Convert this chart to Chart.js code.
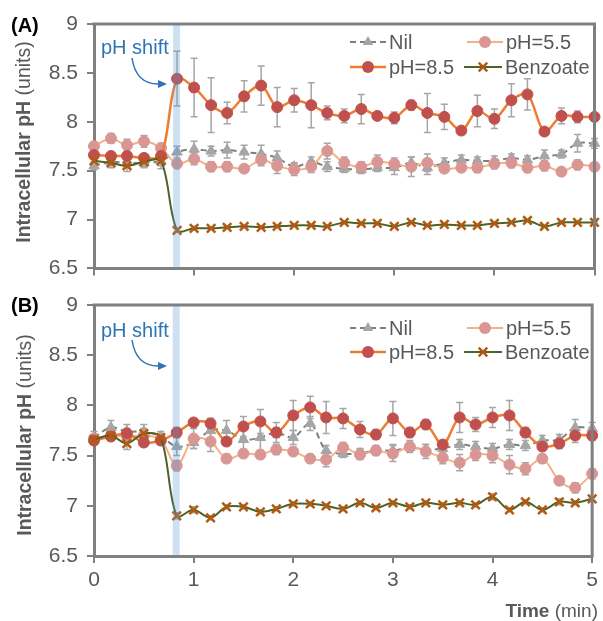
<!DOCTYPE html>
<html>
<head>
<meta charset="utf-8">
<script src="https://cdn.jsdelivr.net/npm/chart.js@4.4.1/dist/chart.umd.min.js"></script>
<style>
  body { margin: 0; background: #fff; }
  #wrap { position: relative; width: 603px; height: 621px; font-family: 'Liberation Sans', Arial, sans-serif; color: #595959; }
  canvas { position: absolute; left: 0; }
  .txt { position: absolute; white-space: nowrap; line-height: 1; }
  .panel { font-weight: bold; color: #000; font-size: 20px; }
  .ytitle { font-size: 19.5px; transform: translate(-50%, -50%) rotate(-90deg); }
  .shift { color: #2E75B6; font-size: 20px; }
</style>
</head>
<body>
<div id="wrap">
  <canvas id="chartA" width="603" height="290" style="top:0"></canvas>
  <canvas id="chartB" width="603" height="340" style="top:281px"></canvas>

  <div class="txt panel" style="left:11px; top:15px">(A)</div>
  <div class="txt panel" style="left:11px; top:295px">(B)</div>
  <div class="txt ytitle" style="left:24px; top:142px"><b>Intracellular pH</b> (units)</div>
  <div class="txt ytitle" style="left:25px; top:435px"><b>Intracellular pH</b> (units)</div>
  <div class="txt shift" style="left:101px; top:37px">pH shift</div>
  <div class="txt shift" style="left:101px; top:320px">pH shift</div>
  <div class="txt" style="right:5px; top:601px; font-size:19px"><b>Time</b> (min)</div>
</div>

<script>
// time points (min)
const time = [0, 0.17, 0.33, 0.5, 0.67, 0.83, 1, 1.17, 1.33, 1.5, 1.67, 1.83, 2, 2.17, 2.33, 2.5,
  2.67, 2.83, 3, 3.17, 3.33, 3.5, 3.67, 3.83, 4, 4.17, 4.33, 4.5, 4.67, 4.83, 5];
const xTicks = [0, 1, 2, 3, 4, 5];
const yTicks = [6.5, 7, 7.5, 8, 8.5, 9];
const shiftBand = [0.79, 0.86];
const seriesNames = ['Nil', 'pH=5.5', 'pH=8.5', 'Benzoate'];

// panel A
const nilA  = [7.55, 7.59, 7.58, 7.58, 7.60, 7.69, 7.72, 7.70, 7.71, 7.69, 7.67, 7.63, 7.54, 7.59, 7.54, 7.52,
  7.51, 7.53, 7.53, 7.58, 7.53, 7.58, 7.61, 7.60, 7.60, 7.63, 7.61, 7.65, 7.67, 7.78, 7.78];
const ph55A = [7.75, 7.83, 7.76, 7.80, 7.73, 7.57, 7.62, 7.54, 7.54, 7.52, 7.61, 7.55, 7.51, 7.54, 7.70, 7.58,
  7.54, 7.59, 7.57, 7.54, 7.58, 7.52, 7.53, 7.53, 7.57, 7.58, 7.53, 7.55, 7.49, 7.56, 7.54];
const ph85A = [7.66, 7.65, 7.65, 7.63, 7.65, 8.44, 8.35, 8.17, 8.09, 8.26, 8.37, 8.15, 8.22, 8.17, 8.09, 8.06,
  8.13, 8.06, 8.04, 8.17, 8.09, 8.05, 7.91, 8.11, 8.03, 8.22, 8.28, 7.90, 8.06, 8.05, 8.05];
const bzA   = [7.60, 7.58, 7.55, 7.59, 7.60, 6.89, 6.91, 6.91, 6.92, 6.93, 6.92, 6.93, 6.94, 6.94, 6.93, 6.97,
  6.96, 6.96, 6.93, 6.97, 6.94, 6.95, 6.94, 6.94, 6.96, 6.97, 6.99, 6.93, 6.97, 6.97, 6.97];
const errNilA  = [0.04, 0.04, 0.05, 0.05, 0.05, 0.06, 0.08, 0.05, 0.08, 0.07, 0.09, 0.07, 0.04, 0.05, 0.05, 0.04,
  0.04, 0.04, 0.07, 0.06, 0.07, 0.05, 0.05, 0.04, 0.05, 0.04, 0.04, 0.06, 0.04, 0.09, 0.05];
const errPh55A = [0.04, 0.05, 0.06, 0.06, 0.05, 0.03, 0.06, 0.05, 0.05, 0.03, 0.06, 0.08, 0.06, 0.06, 0.08, 0.06,
  0.05, 0.07, 0.06, 0.10, 0.09, 0.04, 0.04, 0.05, 0.05, 0.05, 0.05, 0.05, 0.04, 0.05, 0.04];
const errPh85A = [0.03, 0.03, 0.03, 0.04, 0.03, 0.28, 0.30, 0.28, 0.11, 0.16, 0.20, 0.20, 0.12, 0.23, 0.07, 0.07,
  0.15, 0.03, 0.06, 0.05, 0.20, 0.13, 0.03, 0.16, 0.10, 0.17, 0.16, 0.03, 0.08, 0.06, 0.03];
const errBzA   = [0.04, 0.05, 0.06, 0.05, 0.08, 0.02, 0.02, 0.01, 0.01, 0.01, 0.01, 0.01, 0.01, 0.01, 0.01, 0.01,
  0.01, 0.01, 0.01, 0.01, 0.01, 0.01, 0.01, 0.01, 0.01, 0.01, 0.01, 0.01, 0.01, 0.01, 0.01];

// panel B
const nilB  = [7.68, 7.78, 7.74, 7.74, 7.69, 7.59, 7.63, 7.75, 7.75, 7.66, 7.68, 7.73, 7.68, 7.82, 7.55, 7.52,
  7.52, 7.55, 7.55, 7.58, 7.56, 7.57, 7.61, 7.59, 7.57, 7.61, 7.60, 7.65, 7.66, 7.78, 7.77];
const ph55B = [7.67, 7.70, 7.69, 7.70, 7.66, 7.40, 7.67, 7.64, 7.47, 7.52, 7.51, 7.56, 7.54, 7.47, 7.46, 7.58,
  7.51, 7.55, 7.52, 7.59, 7.54, 7.48, 7.43, 7.51, 7.50, 7.41, 7.37, 7.47, 7.25, 7.18, 7.32];
const ph85B = [7.65, 7.69, 7.72, 7.63, 7.65, 7.73, 7.83, 7.82, 7.64, 7.79, 7.84, 7.73, 7.90, 7.98, 7.88, 7.87,
  7.76, 7.71, 7.87, 7.73, 7.81, 7.61, 7.88, 7.81, 7.88, 7.90, 7.73, 7.59, 7.62, 7.70, 7.70];
const bzB   = [7.66, 7.70, 7.62, 7.72, 7.68, 6.90, 6.96, 6.88, 6.99, 6.99, 6.94, 6.97, 7.02, 7.02, 7.00, 6.97,
  7.03, 6.98, 7.03, 6.99, 7.03, 7.01, 7.03, 7.01, 7.09, 6.96, 7.04, 6.96, 7.04, 7.03, 7.07];
const errNilB  = [0.06, 0.07, 0.07, 0.07, 0.05, 0.09, 0.06, 0.12, 0.10, 0.10, 0.13, 0.10, 0.07, 0.07, 0.05, 0.04,
  0.05, 0.04, 0.06, 0.04, 0.05, 0.05, 0.05, 0.05, 0.05, 0.05, 0.05, 0.05, 0.05, 0.08, 0.06];
const errPh55B = [0.04, 0.04, 0.05, 0.04, 0.04, 0.05, 0.10, 0.10, 0.04, 0.04, 0.04, 0.05, 0.04, 0.04, 0.07, 0.05,
  0.05, 0.05, 0.08, 0.06, 0.07, 0.06, 0.08, 0.06, 0.07, 0.09, 0.06, 0.04, 0.04, 0.05, 0.05];
const errPh85B = [0.04, 0.04, 0.05, 0.04, 0.04, 0.05, 0.04, 0.05, 0.04, 0.10, 0.12, 0.05, 0.15, 0.11, 0.16, 0.10,
  0.08, 0.05, 0.17, 0.05, 0.05, 0.04, 0.15, 0.07, 0.10, 0.15, 0.05, 0.03, 0.05, 0.07, 0.05];
const errBzB   = [0.04, 0.04, 0.06, 0.05, 0.04, 0.03, 0.03, 0.02, 0.02, 0.02, 0.02, 0.02, 0.02, 0.02, 0.02, 0.02,
  0.02, 0.02, 0.02, 0.02, 0.02, 0.02, 0.02, 0.02, 0.03, 0.02, 0.02, 0.02, 0.03, 0.02, 0.02];

const FONT = "'Liberation Sans', Arial, sans-serif";
const AXIS = '#808080';

const styles = [
  { line: '#7F7F7F', dash: [6, 4], width: 2, point: 'triangle', fill: '#A6A6A6', stroke: '#A6A6A6', r: 6, bw: 1 },
  { line: '#F4B183', dash: [], width: 2, point: 'circle', fill: '#D99694', stroke: '#D99694', r: 5.5, bw: 1 },
  { line: '#ED7D31', dash: [], width: 2.5, point: 'circle', fill: '#C0504D', stroke: '#C0504D', r: 5.5, bw: 1 },
  { line: '#4F6228', dash: [], width: 2, point: 'crossRot', fill: '#B35A0F', stroke: '#B35A0F', r: 6, bw: 2.5 }
];

function makeSets(vals, errs) {
  return vals.map((v, k) => ({
    label: seriesNames[k],
    data: time.map((t, i) => ({ x: t, y: v[i] })),
    err: errs[k],
    order: 4 - k,
    borderColor: styles[k].line,
    borderWidth: styles[k].width,
    borderDash: styles[k].dash,
    tension: 0.33,
    pointStyle: styles[k].point,
    pointRadius: styles[k].r,
    pointBackgroundColor: styles[k].fill,
    pointBorderColor: styles[k].stroke,
    pointBorderWidth: styles[k].bw,
    clip: false
  }));
}

function marker(ctx, s, x, y) {
  ctx.save();
  ctx.fillStyle = s.fill; ctx.strokeStyle = s.stroke; ctx.lineWidth = s.bw; ctx.setLineDash([]);
  ctx.beginPath();
  if (s.point === 'circle') {
    ctx.arc(x, y, s.r + 0.5, 0, Math.PI * 2); ctx.fill();
  } else if (s.point === 'triangle') {
    const r = s.r;
    ctx.moveTo(x, y - r); ctx.lineTo(x + r * 0.87, y + r * 0.5); ctx.lineTo(x - r * 0.87, y + r * 0.5);
    ctx.closePath(); ctx.fill();
  } else {
    const d = s.r * 0.71;
    ctx.moveTo(x - d, y - d); ctx.lineTo(x + d, y + d);
    ctx.moveTo(x + d, y - d); ctx.lineTo(x - d, y + d); ctx.stroke();
  }
  ctx.restore();
}

const extras = {
  id: 'extras',
  beforeDatasetsDraw(chart) {
    const ctx = chart.ctx, xs = chart.scales.x, ys = chart.scales.y;
    ctx.save();
    ctx.strokeStyle = '#A6A6A6';
    ctx.lineWidth = 1.5;
    chart.data.datasets.forEach(ds => {
      ds.data.forEach((p, i) => {
        const e = ds.err[i];
        const px = xs.getPixelForValue(p.x);
        const t = ys.getPixelForValue(p.y + e), b = ys.getPixelForValue(p.y - e);
        ctx.beginPath();
        ctx.moveTo(px, t); ctx.lineTo(px, b);
        ctx.moveTo(px - 3.5, t); ctx.lineTo(px + 3.5, t);
        ctx.moveTo(px - 3.5, b); ctx.lineTo(px + 3.5, b);
        ctx.stroke();
      });
    });
    ctx.restore();
  },
  afterDatasetsDraw(chart, args, opts) {
    const ctx = chart.ctx, xs = chart.scales.x, a = chart.chartArea;
    ctx.save();
    // pH shift band
    const bx0 = xs.getPixelForValue(shiftBand[0]), bx1 = xs.getPixelForValue(shiftBand[1]);
    ctx.fillStyle = 'rgba(91,155,213,0.3)';
    ctx.fillRect(bx0, a.top, bx1 - bx0, a.bottom - a.top);
    // frame top/right
    ctx.strokeStyle = AXIS; ctx.lineWidth = 3;
    ctx.beginPath();
    ctx.moveTo(a.left - 1.5, a.top); ctx.lineTo(a.right, a.top); ctx.lineTo(a.right, a.bottom + 1.5);
    ctx.stroke();
    // arrow
    const ay = opts.arrowY;
    ctx.strokeStyle = '#2E75B6'; ctx.fillStyle = '#2E75B6'; ctx.lineWidth = 1.5;
    ctx.beginPath();
    ctx.moveTo(132, ay); ctx.quadraticCurveTo(136, ay + 27, 160, ay + 26);
    ctx.stroke();
    ctx.beginPath();
    ctx.moveTo(167, ay + 26); ctx.lineTo(158, ay + 22); ctx.lineTo(158, ay + 30); ctx.closePath(); ctx.fill();
    // legend
    const rows = [opts.legY, opts.legY + opts.legGap];
    const slots = [[350, 0], [467, 0], [350, 1], [464, 1]];
    ctx.font = '20px ' + FONT;
    ctx.textBaseline = 'middle';
    seriesNames.forEach((name, k) => {
      const s = styles[k], x0 = slots[k][0], y = rows[slots[k][1]];
      const len = k === 3 ? 38 : 36;
      ctx.strokeStyle = s.line; ctx.lineWidth = s.width; ctx.setLineDash(s.dash);
      ctx.beginPath(); ctx.moveTo(x0, y); ctx.lineTo(x0 + len, y); ctx.stroke();
      marker(ctx, s, x0 + len / 2, y);
      ctx.fillStyle = '#595959';
      ctx.fillText(name, x0 + len + 3, y + 1);
    });
    ctx.restore();
  }
};

function makeChart(id, vals, errs, showX, xHeight, opts) {
  return new Chart(document.getElementById(id), {
    type: 'line',
    data: { datasets: makeSets(vals, errs) },
    options: {
      responsive: false,
      animation: false,
      layout: { padding: { top: 24, right: 7, left: 0, bottom: 0 } },
      plugins: { legend: { display: false }, tooltip: { enabled: false }, extras: opts },
      scales: {
        x: {
          type: 'linear', min: 0, max: 5,
          afterBuildTicks: s => { s.ticks = xTicks.map(v => ({ value: v })); },
          afterFit: s => { s.height = xHeight; },
          grid: { drawOnChartArea: false, drawTicks: true, tickLength: 7, color: AXIS, lineWidth: 2 },
          border: { display: true, color: AXIS, width: 3 },
          ticks: { display: showX, padding: 5, color: '#595959', font: { family: FONT, size: 21 },
                   callback: v => String(v) }
        },
        y: {
          min: 6.5, max: 9,
          afterBuildTicks: s => { s.ticks = yTicks.map(v => ({ value: v })); },
          afterFit: s => { s.width = 94; },
          grid: { drawOnChartArea: false, drawTicks: true, tickLength: 7, color: AXIS, lineWidth: 2 },
          border: { display: true, color: AXIS, width: 3 },
          ticks: { padding: 9, color: '#595959', font: { family: FONT, size: 21 },
                   callback: v => String(v) }
        }
      }
    },
    plugins: [extras]
  });
}

makeChart('chartA', [nilA, ph55A, ph85A, bzA], [errNilA, errPh55A, errPh85A, errBzA], false, 21,
  { arrowY: 58, legY: 42, legGap: 25 });
makeChart('chartB', [nilB, ph55B, ph85B, bzB], [errNilB, errPh55B, errPh85B, errBzB], true, 65,
  { arrowY: 59, legY: 47, legGap: 24 });
</script>
</body>
</html>
